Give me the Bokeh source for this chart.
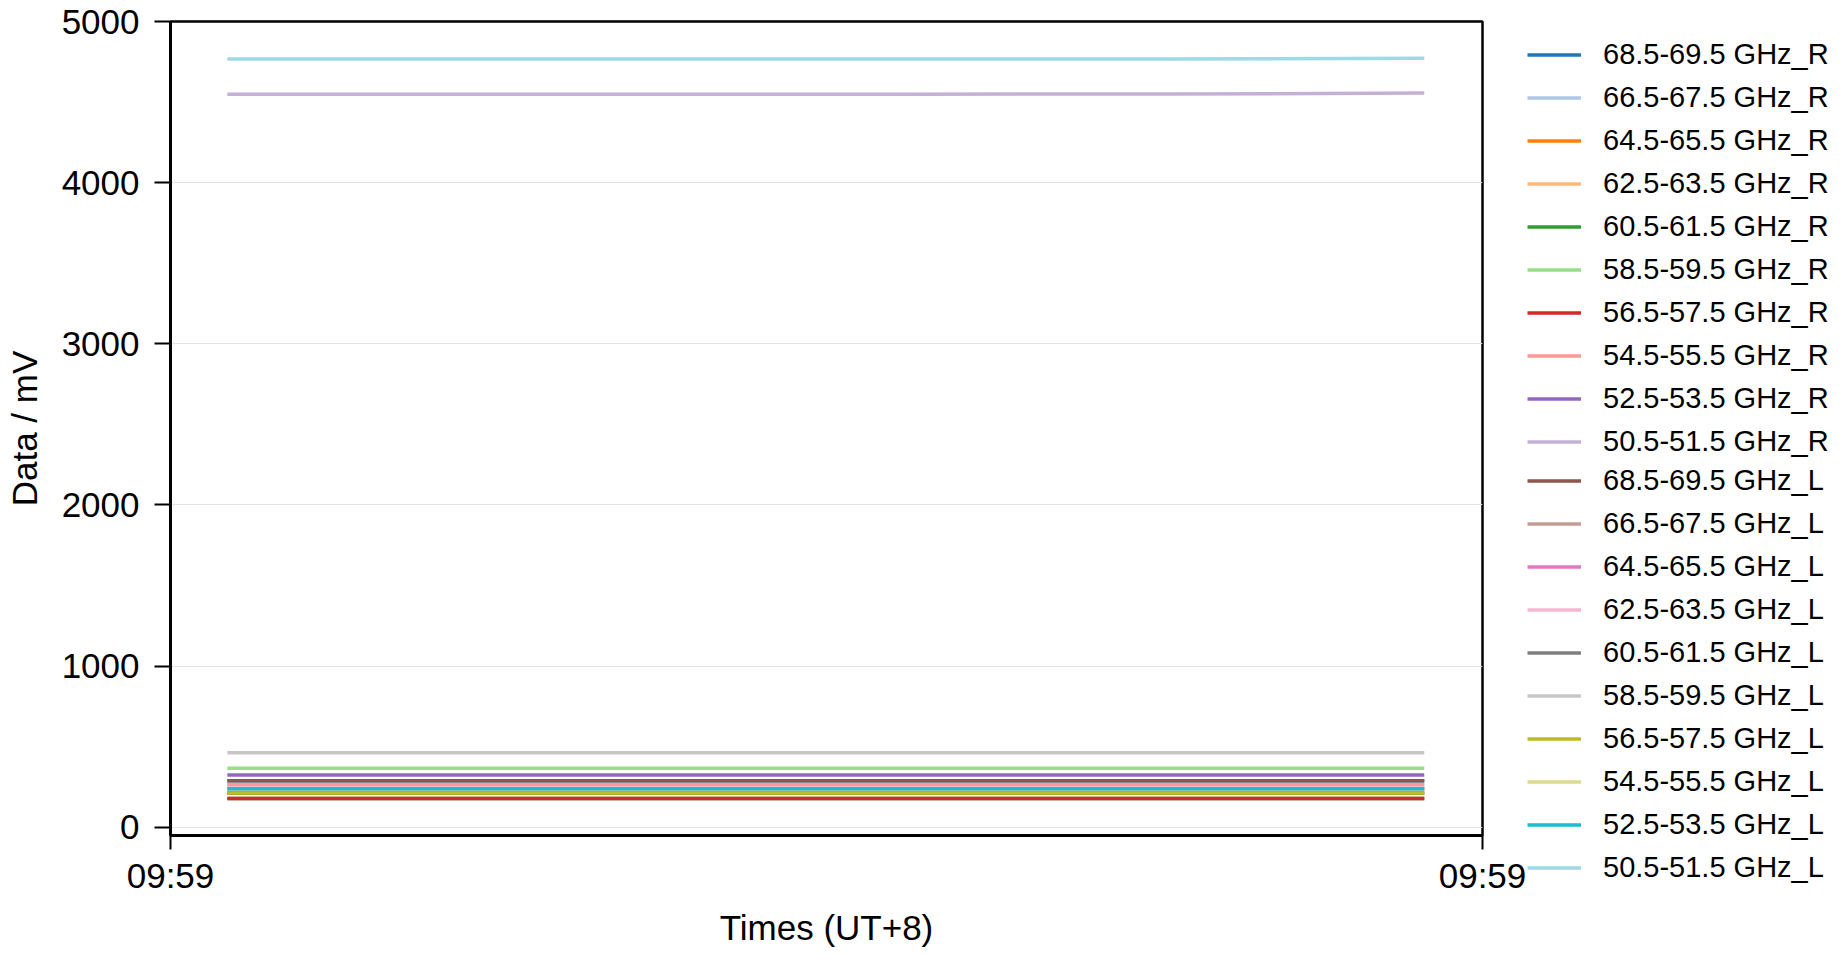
from datetime import datetime
from bokeh.plotting import figure
from bokeh.layouts import row
from bokeh.models import Range1d, FixedTicker, DatetimeTickFormatter, Legend, LegendItem
from bokeh.embed import file_html
from bokeh.resources import INLINE

# ---- data ----
times = ["2024-01-01 09:59:03", "2024-01-01 09:59:13", "2024-01-01 09:59:23",
         "2024-01-01 09:59:33", "2024-01-01 09:59:44", "2024-01-01 09:59:55"]
x_start = "2024-01-01 09:59:00.530"
x_end = "2024-01-01 09:59:57.530"

labels = ["68.5-69.5 GHz_R", "66.5-67.5 GHz_R", "64.5-65.5 GHz_R", "62.5-63.5 GHz_R",
          "60.5-61.5 GHz_R", "58.5-59.5 GHz_R", "56.5-57.5 GHz_R", "54.5-55.5 GHz_R",
          "52.5-53.5 GHz_R", "50.5-51.5 GHz_R",
          "68.5-69.5 GHz_L", "66.5-67.5 GHz_L", "64.5-65.5 GHz_L", "62.5-63.5 GHz_L",
          "60.5-61.5 GHz_L", "58.5-59.5 GHz_L", "56.5-57.5 GHz_L", "54.5-55.5 GHz_L",
          "52.5-53.5 GHz_L", "50.5-51.5 GHz_L"]

colors = ["#1f77b4", "#aec7e8", "#ff7f0e", "#ffbb78", "#2ca02c", "#98df8a", "#d62728",
          "#ff9896", "#9467bd", "#c5b0d5", "#8c564b", "#c49c94", "#e377c2", "#f7b6d2",
          "#7f7f7f", "#c7c7c7", "#bcbd22", "#dbdb8d", "#17becf", "#9edae5"]

r_68 = [289, 289, 289, 289, 289, 289]
r_66 = [264, 264, 264, 264, 264, 264]
r_64 = [239, 239, 239, 239, 239, 239]
r_62 = [212, 212, 212, 212, 212, 212]
r_60 = [179, 179, 179, 179, 179, 179]
r_58 = [367, 367, 367, 367, 367, 367]
r_56 = [179, 179, 179, 179, 179, 179]
r_54 = [264, 264, 264, 264, 264, 264]
r_52 = [324, 324, 324, 324, 324, 324]
r_50 = [4548, 4548, 4548, 4549, 4550, 4556]
l_68 = [289, 289, 289, 289, 289, 289]
l_66 = [239, 239, 239, 239, 239, 239]
l_64 = [212, 212, 212, 212, 212, 212]
l_62 = [239, 239, 239, 239, 239, 239]
l_60 = [212, 212, 212, 212, 212, 212]
l_58 = [462, 462, 462, 462, 462, 462]
l_56 = [212, 212, 212, 212, 212, 212]
l_54 = [239, 239, 239, 239, 239, 239]
l_52 = [239, 239, 239, 239, 239, 239]
l_50 = [4767, 4767, 4767, 4767, 4768, 4772]

series = [r_68, r_66, r_64, r_62, r_60, r_58, r_56, r_54, r_52, r_50,
          l_68, l_66, l_64, l_62, l_60, l_58, l_56, l_54, l_52, l_50]

y_ticks = [0, 1000, 2000, 3000, 4000, 5000]

# ---- figure ----
FONT = "Liberation Sans"
EPOCH = datetime(1970, 1, 1)


def to_ms(s):
    fmt = "%Y-%m-%d %H:%M:%S.%f" if "." in s else "%Y-%m-%d %H:%M:%S"
    return (datetime.strptime(s, fmt) - EPOCH).total_seconds() * 1000.0


xs = [to_ms(t) for t in times]
x0 = to_ms(x_start)
x1 = to_ms(x_end)

W, H = 1847, 955
WP = 1527
p = figure(width=WP, height=H, output_backend="svg", toolbar_location=None,
           x_axis_type="datetime",
           x_range=Range1d(x0, x1), y_range=Range1d(-51, 5000))
p.min_border_left = 170
p.min_border_top = 21
p.min_border_right = WP - 1482
p.min_border_bottom = H - 835

for vals, c in zip(series, colors):
    p.line(xs, vals, line_color=c, line_width=3.5)

# axes
p.xaxis.ticker = FixedTicker(ticks=[x0, x1])
p.xaxis.formatter = DatetimeTickFormatter(
    milliseconds="%H:%M", seconds="%H:%M", minsec="%H:%M", minutes="%H:%M",
    hourmin="%H:%M", hours="%H:%M", days="%H:%M", months="%H:%M", years="%H:%M")
p.yaxis.ticker = FixedTicker(ticks=y_ticks)

for ax in (p.xaxis[0], p.yaxis[0]):
    ax.axis_line_width = 3
    ax.axis_line_color = "black"
    ax.major_tick_line_width = 2
    ax.major_tick_line_color = "black"
    ax.major_tick_in = 0
    ax.minor_tick_line_color = None
    ax.major_label_text_font = FONT
    ax.major_label_text_font_size = "35px"
    ax.major_label_text_color = "black"
    ax.axis_label_text_font = FONT
    ax.axis_label_text_font_size = "35px"
    ax.axis_label_text_font_style = "normal"
    ax.axis_label_text_color = "black"

p.xaxis.major_tick_out = 14
p.yaxis.major_tick_out = 16
p.xaxis.axis_label = "Times (UT+8)"
p.yaxis.axis_label = "Data / mV"
p.xaxis.major_label_standoff = 6
p.yaxis.major_label_standoff = 15
p.xaxis.axis_label_standoff = 10
p.yaxis.axis_label_standoff = 15

p.xgrid.grid_line_color = None
p.ygrid.grid_line_color = "#e3e3e3"
p.ygrid.grid_line_width = 1

p.outline_line_color = "black"
p.outline_line_width = 2.5
p.outline_line_alpha = 1
p.background_fill_color = "white"
p.border_fill_color = "white"

# ---- legend panel (separate figure to the right) ----
p2 = figure(width=W - WP, height=H, output_backend="svg", toolbar_location=None,
            x_axis_location=None, y_axis_location=None,
            x_range=Range1d(0, 1), y_range=Range1d(0, 1))
p2.min_border_left = 0
p2.min_border_right = 0
p2.min_border_top = 33
p2.min_border_bottom = 66
p2.outline_line_color = None
p2.grid.visible = False
p2.background_fill_color = "white"
p2.border_fill_color = "white"

# keep the two plot frames independent
if "frame_align" in p2.properties():
    p.frame_align = False
    p2.frame_align = False

leg_renderers = []
for vals, c in zip(series, colors):
    # same series, outside the empty panel's visible range: only the legend shows
    leg_renderers.append(p2.line(xs, vals, line_color=c, line_width=3.5))

items_r = [LegendItem(label=l, renderers=[r]) for l, r in zip(labels[:10], leg_renderers[:10])]
items_l = [LegendItem(label=l, renderers=[r]) for l, r in zip(labels[10:], leg_renderers[10:])]

for items, loc in ((items_r, "top_left"), (items_l, "bottom_left")):
    lg = Legend(items=items, location=loc)
    lg.label_text_font = FONT
    lg.label_text_font_size = "29px"
    lg.label_text_color = "black"
    lg.glyph_width = 54
    lg.glyph_height = 43
    lg.label_height = 43
    lg.spacing = 0
    lg.label_standoff = 22
    lg.padding = 0
    lg.margin = 0
    lg.border_line_alpha = 0
    lg.background_fill_alpha = 0
    p2.add_layout(lg)

layout = row(p, p2)
open("out.html", "w").write(file_html(layout, INLINE))
